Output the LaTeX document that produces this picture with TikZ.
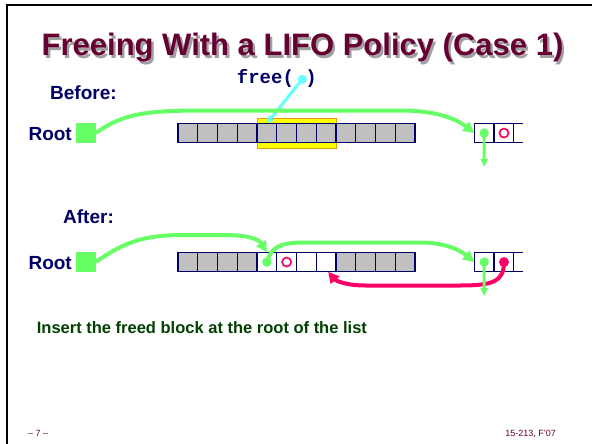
\documentclass[tikz,border=0pt]{standalone}
\usepackage{fontspec}
\setmainfont{Liberation Sans}
\newfontfamily\codefont{Liberation Mono}
\usetikzlibrary{arrows.meta}

\definecolor{navy}{HTML}{000066}
\definecolor{maroon}{HTML}{660033}
\definecolor{shade}{HTML}{A0A0A0}
\definecolor{ptrgreen}{HTML}{66FF66}
\definecolor{ptrred}{HTML}{FF0066}
\definecolor{ptrcyan}{HTML}{66FFFF}
\definecolor{cellgray}{HTML}{C0C0C0}
\definecolor{hiyellow}{HTML}{FFFF00}
\definecolor{hiorange}{HTML}{E0A000}
\definecolor{notegreen}{HTML}{004000}

% title text with a soft grey drop shadow behind it
\newcommand{\shadowedtitle}[1]{%
  \makebox[0pt][l]{\hspace{2.3pt}\raisebox{-2.3pt}{\textcolor{shade}{#1}}}%
  \textcolor{maroon}{#1}}

\begin{document}
\begin{tikzpicture}[x=1pt,y=-1pt,
  cellbase/.style={draw=navy, line width=1.2pt, minimum width=19.75pt, minimum height=19.5pt,
                   inner sep=0pt, outer sep=0pt, anchor=north west},
  cellused/.style={cellbase, fill=cellgray},
  cellfree/.style={cellbase, fill=white},
  hlbox/.style={draw=hiorange, fill=hiyellow, line width=1.2pt, minimum width=79pt,
                minimum height=30pt, inner sep=0pt},
  rootsq/.style={fill=ptrgreen, minimum size=19.5pt, inner sep=0pt},
  gdot/.style={circle, fill=ptrgreen, minimum size=9.5pt, inner sep=0pt},
  rdot/.style={circle, fill=ptrred, minimum size=10pt, inner sep=0pt},
  rring/.style={circle, draw=ptrred, line width=1.7pt, minimum size=9pt, inner sep=0pt},
  cdot/.style={circle, fill=ptrcyan, minimum size=9pt, inner sep=0pt},
  gptr/.style={draw=ptrgreen, line width=4pt, -{Triangle[length=11pt,width=11pt]}},
  gdown/.style={draw=ptrgreen, line width=3pt, -{Triangle[length=8pt,width=7pt]}},
  rptr/.style={draw=ptrred, line width=4pt, -{Triangle[length=11pt,width=11pt]}},
  cptr/.style={draw=ptrcyan, line width=3pt, -{Triangle[length=7pt,width=7pt]}},
  lbl/.style={text=navy, font=\fontsize{19}{22}\selectfont\bfseries, inner sep=0pt},
  foot/.style={text=maroon, font=\fontsize{9}{10}\selectfont, inner sep=0pt},
  titletxt/.style={font=\fontsize{31}{34}\selectfont\bfseries, inner sep=0pt, anchor=base}
]
\useasboundingbox (0,0) rectangle (592,444);
\fill[white] (0,0) rectangle (592,444);

% slide frame
\draw[line width=2pt, line cap=rect] (7,444) -- (7,5) -- (592,5);

% title
\node[titletxt] (title) at (302.5,56) {\shadowedtitle{Freeing With a LIFO Policy (Case 1)}};

% ---------------- before ----------------
\node[lbl, anchor=base west] (before) at (50,99.3) {Before:};
\node[lbl, anchor=base east] (rootA) at (72,140) {Root};
\node[rootsq] (sqA) at (86,133) {};

\node[hlbox] (hl) at (297,133.3) {};
\foreach \i in {1,...,12}
  \node[cellused] (b\i) at ({178+(\i-1)*19.75},123.3) {};

\node[cellfree] (bt1) at (474.3,123.3) {};
\node[cellfree] (bt2) at (494.1,123.3) {};
\draw[navy, line width=1.2pt] (bt2.north east) -- ++(9.5,0);
\draw[navy, line width=1.2pt] (bt2.south east) -- ++(9.5,0);

\node[anchor=base west, inner sep=0pt, text=navy, font=\codefont\fontsize{19}{22}\selectfont\bfseries]
  (call) at (236.7,84) {free( )};
\node[cdot] (cd) at (302.3,79.3) {};
\draw[cptr] (cd.center) -- (b5.north);

\draw[gptr] (sqA.east) .. controls (125,112) and (150,110.5) .. (210,110.5)
  -- (400,110.5) .. controls (435,110.5) and (455,118) .. (bt1.west);

\coordinate (downA) at (484.2,167);
\draw[gdown] (bt1.center) -- (downA);
\node[gdot] (gA) at (bt1.center) {};
\node[rring] (rA) at (bt2.center) {};

% ---------------- after ----------------
\node[lbl, anchor=base west] (after) at (63,223.3) {After:};
\node[lbl, anchor=base east] (rootB) at (72,269.3) {Root};
\node[rootsq] (sqB) at (86,262) {};

\foreach \i/\s in {1/cellused,2/cellused,3/cellused,4/cellused,
                   5/cellfree,6/cellfree,7/cellfree,8/cellfree,
                   9/cellused,10/cellused,11/cellused,12/cellused}
  \node[\s] (a\i) at ({178+(\i-1)*19.75},252.3) {};

\node[cellfree] (at1) at (474.3,252.3) {};
\node[cellfree] (at2) at (494.1,252.3) {};
\draw[navy, line width=1.2pt] (at2.north east) -- ++(9.5,0);
\draw[navy, line width=1.2pt] (at2.south east) -- ++(9.5,0);

\draw[gptr] (sqB.east) .. controls (128,239) and (150,235) .. (185,235)
  -- (222,235) .. controls (245,235) and (258,238) .. (a5.north);

\draw[gptr] (a5.center) .. controls (271,247) and (280,242.5) .. (305,242.5)
  -- (420,242.5) .. controls (445,242.5) and (460,250) .. (at1.west);

\draw[rptr] (at2.center) .. controls (504,282) and (492,285.5) .. (460,285.5)
  -- (365,285.5) .. controls (345,285.5) and (335,280) .. ([xshift=2pt]a8.south);

\coordinate (downB) at (484.2,296);
\draw[gdown] (at1.center) -- (downB);
\node[gdot] (gB) at (a5.center) {};
\node[rring] (rB) at (a6.center) {};
\node[gdot] (gC) at (at1.center) {};
\node[rdot] (rC) at (at2.center) {};

% ---------------- note and footer ----------------
\node[anchor=base west, inner sep=0pt, text=notegreen, font=\fontsize{16.5}{20}\selectfont\bfseries]
  (note) at (36.7,333.3) {Insert the freed block at the root of the list};
\node[foot, anchor=base west] (page) at (28,436) {– 7 –};
\node[foot, anchor=base east] (course) at (556,436) {15-213, F'07};
\end{tikzpicture}
\end{document}
